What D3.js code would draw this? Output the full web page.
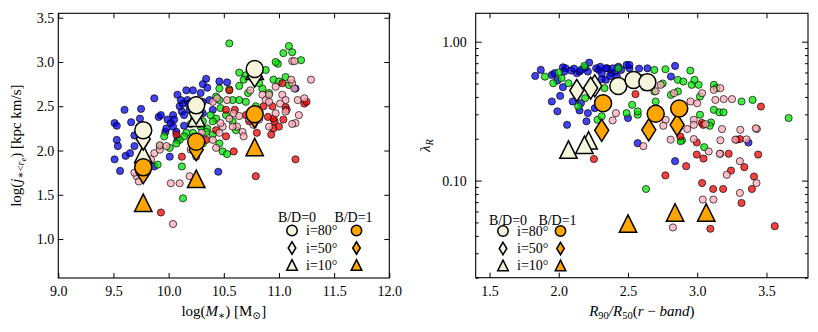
<!DOCTYPE html>
<html>
<head>
<meta charset="utf-8">
<script src="https://cdn.jsdelivr.net/npm/d3@7"></script>
<style>
body { margin: 0; background: #fff; }
text { font-family: "Liberation Serif", "DejaVu Serif", serif; fill: #000; }
</style>
</head>
<body>
<div class="chart"></div>
<script>
// ---- left panel: log(M*) vs log(j*) ----
var leftBlue = [[9.51,2.31],[9.53,2.28],[9.60,2.46],[9.53,2.12],[9.54,2.05],[9.51,1.90],[9.56,1.77],[9.61,1.94],[9.65,1.97],[9.66,2.32],[9.69,2.17],[9.69,2.05],[9.75,2.47],[9.74,2.36],[9.80,2.27],[9.87,2.59],[9.91,2.38],[9.93,2.40],[9.97,2.21],[9.98,2.25],[9.99,2.35],[10.02,2.31],[10.04,2.40],[10.05,2.35],[10.08,2.63],[10.10,2.50],[10.12,2.44],[10.13,2.53],[10.07,2.21],[10.08,2.12],[10.01,1.93],[10.16,2.68],[10.17,2.57],[10.19,2.46],[10.22,2.68],[10.25,2.57],[10.27,2.40],[10.29,2.65],[10.31,2.75],[10.34,2.81],[10.35,2.71],[10.37,2.57],[10.40,2.46],[10.31,2.42],[10.14,2.28],[10.46,2.78],[10.53,2.77],[10.45,1.76],[11.15,2.70],[10.18,2.53],[10.31,2.55],[10.14,2.40],[10.04,2.27],[10.11,2.57],[9.87,1.82]];
var leftGreen = [[10.55,3.21],[11.09,3.18],[11.12,3.11],[11.04,3.10],[10.99,2.98],[10.97,3.00],[11.20,3.02],[10.88,2.91],[10.64,2.88],[10.70,2.85],[10.68,2.80],[10.64,2.73],[10.55,2.69],[10.46,2.57],[10.43,2.61],[10.58,2.57],[10.64,2.57],[10.70,2.55],[10.72,2.65],[10.85,2.70],[10.91,2.65],[10.95,2.80],[11.00,2.78],[11.06,2.83],[11.09,2.74],[10.79,2.50],[10.82,2.76],[10.52,2.40],[10.43,2.36],[10.40,2.33],[10.35,2.25],[10.34,2.21],[10.28,2.16],[10.29,2.27],[10.22,2.20],[10.16,2.20],[10.14,2.16],[10.10,2.12],[10.07,2.08],[10.01,2.03],[9.96,2.16],[9.92,2.05],[9.90,1.84],[10.12,1.82],[10.13,1.46],[10.31,2.08],[10.40,2.18],[10.46,2.08],[10.49,1.99],[10.53,1.96],[10.61,2.23],[10.58,2.33],[10.46,2.70],[10.31,2.33],[10.23,2.36],[10.47,2.48],[10.38,2.40],[10.20,2.30]];
var leftRed = [[10.07,2.18],[10.12,1.93],[9.93,1.30],[10.43,2.23],[10.52,2.16],[10.59,1.99],[10.52,2.46],[10.55,2.68],[10.73,2.33],[10.79,1.71],[10.80,2.20],[10.93,2.18],[10.95,2.25],[10.96,2.33],[10.95,2.36],[10.94,2.50],[11.00,2.27],[11.04,2.35],[11.06,2.49],[11.07,2.46],[11.03,2.76],[11.15,1.90],[11.23,2.53],[11.25,2.55],[10.90,2.38],[10.86,2.50],[10.70,2.40],[10.34,2.12],[10.60,2.46]];
var leftPink = [[9.71,1.71],[9.73,1.65],[9.69,1.75],[9.87,1.97],[9.92,2.01],[9.92,2.06],[9.84,1.90],[9.80,1.86],[10.02,1.63],[10.10,1.63],[10.04,1.17],[10.19,1.71],[10.20,2.01],[10.25,1.93],[10.40,2.12],[10.43,2.03],[10.46,2.20],[10.49,2.27],[10.55,2.36],[10.59,2.42],[10.62,2.27],[10.67,2.21],[10.68,2.16],[10.64,2.39],[10.58,2.27],[10.47,2.31],[10.40,2.55],[10.44,2.59],[10.53,2.57],[10.85,2.63],[10.88,2.57],[10.91,2.55],[10.97,2.72],[11.03,2.63],[11.06,2.57],[11.01,2.53],[11.12,2.76],[11.11,2.80],[11.14,2.70],[11.17,2.57],[11.15,2.31],[11.12,2.30],[11.18,2.40],[11.23,2.59],[11.29,2.80],[11.12,3.01],[11.14,3.01],[10.91,2.63],[10.74,2.68],[10.77,2.29],[10.82,2.35],[10.91,2.27],[10.97,2.42],[11.06,2.44],[10.73,2.36],[9.98,2.05],[10.30,2.20],[10.28,2.30]];

// model points, three mass bins
var massBins = [9.77, 10.25, 10.78];
var leftCircle0 = [2.23, 2.51, 2.92];
var leftDiamond0 = [2.13, 2.42, 2.84];
var leftTriangle0 = [1.96, 2.37, 2.90];
var leftCircle1 = [1.81, 2.10, 2.41];
var leftDiamond1 = [1.75, 2.01, 2.38];
var leftTriangle1 = [1.41, 1.68, 2.04];

var leftXTicks = [9.0, 9.5, 10.0, 10.5, 11.0, 11.5, 12.0];
var leftYTicks = [1.0, 1.5, 2.0, 2.5, 3.0, 3.5];

// ---- right panel: concentration vs lambda_R ----
var rightBlue = [[1.83,0.567],[1.87,0.626],[1.95,0.576],[1.97,0.593],[2.03,0.654],[2.05,0.643],[2.09,0.619],[2.13,0.593],[2.15,0.609],[2.22,0.707],[2.27,0.643],[2.31,0.537],[2.34,0.531],[2.38,0.593],[2.41,0.609],[2.35,0.643],[1.99,0.525],[2.03,0.470],[2.01,0.407],[1.95,0.371],[1.99,0.315],[2.06,0.252],[2.10,0.371],[2.16,0.361],[2.15,0.320],[2.21,0.306],[2.20,0.267],[2.26,0.332],[2.34,0.643],[2.39,0.643],[2.45,0.626],[2.49,0.680],[2.51,0.643],[2.29,0.626],[2.31,0.593],[2.16,0.626],[2.21,0.609],[2.04,0.609],[2.37,0.567],[2.42,0.561],[2.51,0.680],[2.64,0.643],[2.84,0.669],[2.81,0.561],[2.57,0.186],[2.50,0.282],[3.37,0.188],[2.84,0.138],[2.58,0.64],[2.19,0.65],[2.43,0.66],[2.30,0.66],[2.11,0.64]];
var rightGreen = [[2.185,0.669],[1.96,0.502],[2.02,0.546],[2.07,0.502],[2.14,0.342],[2.28,0.274],[2.31,0.290],[2.33,0.463],[2.19,0.392],[2.69,0.626],[2.77,0.633],[2.95,0.619],[2.86,0.531],[2.90,0.516],[2.96,0.489],[3.01,0.489],[2.98,0.531],[3.12,0.489],[3.14,0.463],[2.86,0.438],[2.81,0.414],[2.70,0.371],[2.54,0.489],[2.69,0.438],[2.53,0.351],[2.57,0.298],[2.49,0.306],[3.02,0.298],[3.12,0.323],[3.16,0.310],[3.19,0.310],[3.10,0.262],[3.09,0.248],[3.05,0.174],[3.32,0.371],[2.89,0.195],[2.43,0.643],[3.66,0.282],[2.63,0.087],[2.88,0.192],[3.02,0.403],[2.57,0.315],[3.40,0.381],[1.90,0.56],[2.00,0.60],[2.60,0.55],[2.75,0.50],[2.62,0.47]];
var rightRed = [[3.46,0.341],[3.44,0.154],[3.41,0.107],[3.395,0.087],[3.32,0.069],[3.56,0.047],[3.095,0.045],[3.115,0.087],[3.187,0.087],[3.035,0.096],[2.997,0.154],[3.045,0.144],[3.227,0.156],[3.244,0.118],[3.34,0.125],[2.92,0.127],[2.77,0.109],[2.254,0.143],[2.554,0.419],[2.877,0.208],[2.997,0.188],[3.285,0.197],[3.308,0.199],[3.033,0.26],[3.043,0.252]];
var rightPink = [[2.736,0.489],[2.832,0.426],[2.951,0.371],[3.035,0.426],[3.131,0.381],[3.191,0.386],[3.251,0.386],[3.119,0.450],[3.167,0.463],[2.975,0.274],[2.928,0.235],[2.772,0.274],[2.755,0.248],[2.808,0.197],[2.975,0.199],[3.083,0.162],[3.167,0.156],[3.167,0.195],[3.179,0.235],[3.311,0.232],[3.275,0.197],[3.431,0.235],[2.611,0.177],[2.975,0.252],[2.868,0.239],[3.308,0.0815],[3.428,0.096],[3.04,0.073],[3.117,0.073],[3.308,0.138],[3.213,0.110],[3.162,0.156],[3.356,0.198],[2.824,0.046],[2.389,0.271],[2.413,0.306],[3.423,0.238],[2.65,0.52],[2.70,0.44],[3.00,0.36],[3.06,0.255],[2.88,0.33]];

var rightCircle0 = [[2.43,0.48],[2.54,0.53],[2.64,0.51]];
var rightDiamond0 = [[2.13,0.445],[2.26,0.48],[2.23,0.463]];
var rightTriangle0 = [[2.07,0.167],[2.215,0.195],[2.185,0.181]];
var rightCircle1 = [[2.32,0.36],[2.70,0.303],[2.87,0.33]];
var rightDiamond1 = [[2.31,0.23],[2.65,0.232],[2.855,0.252]];
var rightTriangle1 = [[2.50,0.049],[2.84,0.059],[3.065,0.059]];

var rightXTicks = [1.5, 2.0, 2.5, 3.0, 3.5];
var rightYTicks = [0.1, 1.0];
var rightYMinor = [0.02,0.03,0.04,0.05,0.06,0.07,0.08,0.09,0.2,0.3,0.4,0.5,0.6,0.7,0.8,0.9];

var legendRows = ["i=80°", "i=50°", "i=10°"];
var legendCols = ["B/D=0", "B/D=1"];

var width = 818, height = 332,
    ivory = "#f5f5dc", orange = "#ffa500",
    colors = {blue: "#0000e8", green: "#00e600", red: "#f00000", pink: "#ffa8b6"};

var svg = d3.select(".chart").append("svg")
    .attr("width", width)
    .attr("height", height);

var L = {left: 58.3, right: 389.3, top: 13.3, bottom: 278},
    R = {left: 475.7, right: 808, top: 13.3, bottom: 277.7};

var xL = d3.scaleLinear().domain([9, 12]).range([L.left, L.right]),
    yL = d3.scaleLinear().domain([0.56, 3.55]).range([L.bottom, L.top]),
    xR = d3.scaleLinear().domain([1.4, 3.8]).range([R.left, R.right]),
    yR = d3.scaleLog().domain([0.02, 1.6]).range([R.bottom, R.top]);

function diamondPath(w, h) { return "M0," + (-h) + "L" + w + ",0L0," + h + "L" + (-w) + ",0Z"; }
function trianglePath(s) { return "M0," + (-s) + "L" + s + "," + s + "L" + (-s) + "," + s + "Z"; }

function scatter(g, pts, color, x, y) {
  g.append("g").selectAll("circle")
    .data(pts)
    .enter().append("circle")
      .attr("cx", function(d) { return x(d[0]); })
      .attr("cy", function(d) { return y(d[1]); })
      .attr("r", 3.6)
      .style("fill", color)
      .style("fill-opacity", 0.74)
      .style("stroke", "#000")
      .style("stroke-opacity", 0.75)
      .style("stroke-width", 0.9);
}

function bigMarkers(g, pts, shape, fill, x, y) {
  var sel = g.append("g").selectAll(".m").data(pts).enter();
  if (shape == "circle") {
    sel.append("circle")
      .attr("cx", function(d) { return x(d[0]); })
      .attr("cy", function(d) { return y(d[1]); })
      .attr("r", 8.5)
      .style("fill", fill).style("stroke", "#000").style("stroke-width", 1.5);
  } else {
    sel.append("path")
      .attr("d", shape == "diamond" ? diamondPath(7, 11) : trianglePath(8.7))
      .attr("transform", function(d) { return "translate(" + x(d[0]) + "," + y(d[1]) + ")"; })
      .style("fill", fill).style("stroke", "#000").style("stroke-width", 1.5)
      .style("stroke-linejoin", "miter");
  }
}

function frame(b) {
  svg.append("rect")
    .attr("x", b.left).attr("y", b.top)
    .attr("width", b.right - b.left).attr("height", b.bottom - b.top)
    .style("fill", "none").style("stroke", "#000").style("stroke-width", 1.1);
}

function styleAxis(g) {
  g.attr("font-family", null).attr("font-size", null);
  g.select(".domain").remove();
  g.selectAll("line").style("stroke", "#000").style("stroke-width", 1);
  g.selectAll("text").style("font-size", "14px");
}

function legend(x0, x1, xt, ty, rows) {
  var lg = svg.append("g");
  lg.selectAll(".lt").data(legendCols).enter().append("text")
    .attr("x", function(d, i) { return i == 0 ? x0 + 5 : x1 - 3; })
    .attr("y", ty)
    .attr("text-anchor", "middle")
    .style("font-size", "14px")
    .text(function(d) { return d; });
  lg.selectAll(".lr").data(legendRows).enter().append("text")
    .attr("x", xt)
    .attr("y", function(d, i) { return rows[i] + 4.8; })
    .style("font-size", "14px")
    .text(function(d) { return d; });
  [ivory, orange].forEach(function(c, j) {
    var cx = j == 0 ? x0 : x1;
    lg.append("circle").attr("cx", cx).attr("cy", rows[0]).attr("r", 5.2)
      .style("fill", c).style("stroke", "#000").style("stroke-width", 1.5);
    lg.append("path").attr("d", diamondPath(3.8, 6.2))
      .attr("transform", "translate(" + cx + "," + rows[1] + ")")
      .style("fill", c).style("stroke", "#000").style("stroke-width", 1.5);
    lg.append("path").attr("d", trianglePath(5.3))
      .attr("transform", "translate(" + cx + "," + rows[2] + ")")
      .style("fill", c).style("stroke", "#000").style("stroke-width", 1.5);
  });
}

// ---------- left panel ----------
var gl = svg.append("g");
scatter(gl, leftBlue, colors.blue, xL, yL);
scatter(gl, leftGreen, colors.green, xL, yL);
scatter(gl, leftRed, colors.red, xL, yL);
scatter(gl, leftPink, colors.pink, xL, yL);

function zipBins(v) { return massBins.map(function(m, i) { return [m, v[i]]; }); }
bigMarkers(gl, zipBins(leftTriangle0), "triangle", ivory, xL, yL);
bigMarkers(gl, zipBins(leftDiamond0), "diamond", ivory, xL, yL);
bigMarkers(gl, zipBins(leftCircle0), "circle", ivory, xL, yL);
bigMarkers(gl, zipBins(leftTriangle1), "triangle", orange, xL, yL);
bigMarkers(gl, zipBins(leftDiamond1), "diamond", orange, xL, yL);
bigMarkers(gl, zipBins(leftCircle1), "circle", orange, xL, yL);

svg.append("g").attr("transform", "translate(0," + L.bottom + ")")
  .call(d3.axisBottom(xL).tickValues(leftXTicks).tickSize(-5).tickPadding(8).tickFormat(d3.format(".1f")))
  .call(styleAxis);
svg.append("g").attr("transform", "translate(0," + L.top + ")")
  .call(d3.axisTop(xL).tickValues(leftXTicks).tickSize(-5).tickFormat(""))
  .call(styleAxis);
svg.append("g").attr("transform", "translate(" + L.left + ",0)")
  .call(d3.axisLeft(yL).tickValues(leftYTicks).tickSize(-5).tickPadding(4).tickFormat(d3.format(".1f")))
  .call(styleAxis);
svg.append("g").attr("transform", "translate(" + L.right + ",0)")
  .call(d3.axisRight(yL).tickValues(leftYTicks).tickSize(-5).tickFormat(""))
  .call(styleAxis);
frame(L);

legend(292, 356.5, 306, 221.5, [230.5, 248, 265]);

var xlab = svg.append("text").attr("x", (L.left + L.right) / 2).attr("y", 316)
  .attr("text-anchor", "middle").style("font-size", "15px");
xlab.append("tspan").text("log(");
xlab.append("tspan").style("font-style", "italic").text("M");
xlab.append("tspan").attr("dy", 3).style("font-size", "10.5px").text("∗");
xlab.append("tspan").attr("dy", -3).text(") [M");
xlab.append("tspan").attr("dy", 3).style("font-size", "10.5px").text("⊙");
xlab.append("tspan").attr("dy", -3).text("]");

var ylab = svg.append("text")
  .attr("transform", "translate(21," + ((L.top + L.bottom) / 2) + ") rotate(-90)")
  .attr("text-anchor", "middle").style("font-size", "15px");
ylab.append("tspan").text("log(");
ylab.append("tspan").style("font-style", "italic").text("j");
ylab.append("tspan").attr("dy", 3).style("font-size", "10.5px").text("∗<");
ylab.append("tspan").style("font-size", "10.5px").style("font-style", "italic").text("r");
ylab.append("tspan").attr("dy", 2).style("font-size", "8px").style("font-style", "italic").text("e");
ylab.append("tspan").attr("dy", -5).text(") [kpc km/s]");

// ---------- right panel ----------
var gr = svg.append("g");
scatter(gr, rightBlue, colors.blue, xR, yR);
scatter(gr, rightGreen, colors.green, xR, yR);
scatter(gr, rightRed, colors.red, xR, yR);
scatter(gr, rightPink, colors.pink, xR, yR);

bigMarkers(gr, rightTriangle0, "triangle", ivory, xR, yR);
bigMarkers(gr, rightDiamond0, "diamond", ivory, xR, yR);
bigMarkers(gr, rightCircle0, "circle", ivory, xR, yR);
bigMarkers(gr, rightTriangle1, "triangle", orange, xR, yR);
bigMarkers(gr, rightDiamond1, "diamond", orange, xR, yR);
bigMarkers(gr, rightCircle1, "circle", orange, xR, yR);

svg.append("g").attr("transform", "translate(0," + R.bottom + ")")
  .call(d3.axisBottom(xR).tickValues(rightXTicks).tickSize(-5).tickPadding(8).tickFormat(d3.format(".1f")))
  .call(styleAxis);
svg.append("g").attr("transform", "translate(0," + R.top + ")")
  .call(d3.axisTop(xR).tickValues(rightXTicks).tickSize(-5).tickFormat(""))
  .call(styleAxis);
svg.append("g").attr("transform", "translate(" + R.left + ",0)")
  .call(d3.axisLeft(yR).tickValues(rightYTicks).tickSize(-6).tickPadding(9).tickFormat(d3.format(".2f")))
  .call(styleAxis);
svg.append("g").attr("transform", "translate(" + R.left + ",0)")
  .call(d3.axisLeft(yR).tickValues(rightYMinor).tickSize(-3).tickFormat(""))
  .call(styleAxis);
svg.append("g").attr("transform", "translate(" + R.right + ",0)")
  .call(d3.axisRight(yR).tickValues(rightYTicks).tickSize(-6).tickFormat(""))
  .call(styleAxis);
svg.append("g").attr("transform", "translate(" + R.right + ",0)")
  .call(d3.axisRight(yR).tickValues(rightYMinor).tickSize(-3).tickFormat(""))
  .call(styleAxis);
frame(R);

legend(503, 560.5, 517, 224.5, [231, 248.5, 265.5]);

var xlab2 = svg.append("text").attr("x", (R.left + R.right) / 2).attr("y", 316)
  .attr("text-anchor", "middle").style("font-size", "15px").style("font-style", "italic");
xlab2.append("tspan").text("R");
xlab2.append("tspan").attr("dy", 3).style("font-size", "10.5px").style("font-style", "normal").text("90");
xlab2.append("tspan").attr("dy", -3).text("/R");
xlab2.append("tspan").attr("dy", 3).style("font-size", "10.5px").style("font-style", "normal").text("50");
xlab2.append("tspan").attr("dy", -3).style("font-style", "normal").text("(");
xlab2.append("tspan").text("r");
xlab2.append("tspan").style("font-style", "normal").text(" − ");
xlab2.append("tspan").text("band");
xlab2.append("tspan").style("font-style", "normal").text(")");

var ylab2 = svg.append("text")
  .attr("transform", "translate(430," + ((R.top + R.bottom) / 2) + ") rotate(-90)")
  .attr("text-anchor", "middle").style("font-size", "15px");
ylab2.append("tspan").style("font-style", "italic").text("λ");
ylab2.append("tspan").attr("dy", 3).style("font-size", "10.5px").style("font-style", "italic").text("R");
</script>
</body>
</html>
